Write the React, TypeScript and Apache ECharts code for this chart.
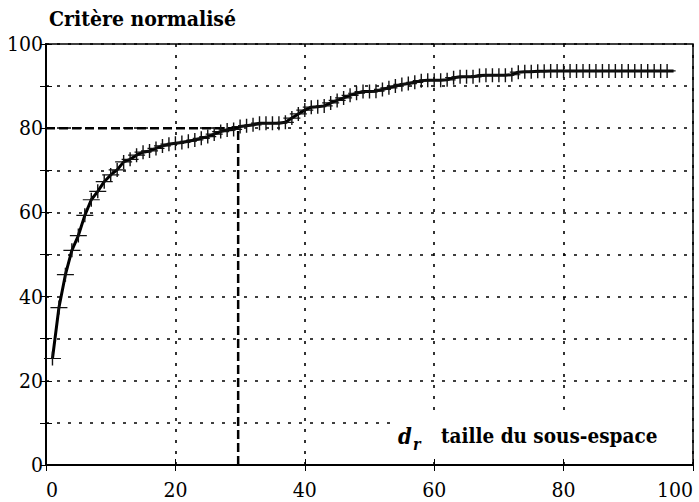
import React, { useEffect, useRef } from "react";
import * as echarts from "echarts";

const subspaceSize: number[] = [
  1, 2, 3, 4, 5, 6, 7, 8, 9, 10, 11, 12, 13, 14, 15, 16, 17, 18, 19, 20,
  21, 22, 23, 24, 25, 26, 27, 28, 29, 30, 31, 32, 33, 34, 35, 36, 37, 38, 39, 40,
  41, 42, 43, 44, 45, 46, 47, 48, 49, 50, 51, 52, 53, 54, 55, 56, 57, 58, 59, 60,
  61, 62, 63, 64, 65, 66, 67, 68, 69, 70, 71, 72, 73, 74, 75, 76, 77, 78, 79, 80,
  81, 82, 83, 84, 85, 86, 87, 88, 89, 90, 91, 92, 93, 94, 95, 96, 97,
];

const criterion: number[] = [
  25.3, 37.4, 45.2, 51.0, 54.5, 59.3, 63.0, 65.0, 67.3, 68.9,
  70.1, 72.0, 72.6, 73.6, 74.3, 74.6, 75.2, 75.8, 76.2, 76.4,
  76.6, 76.9, 77.2, 77.6, 78.0, 78.6, 79.2, 79.6, 79.7, 80.4,
  80.6, 80.8, 81.2, 81.2, 81.2, 81.2, 81.4, 82.4, 83.4, 84.3,
  85.0, 85.1, 85.3, 86.0, 86.6, 87.2, 87.8, 88.3, 88.7, 88.7,
  88.8, 89.2, 89.6, 90.0, 90.4, 90.6, 90.9, 91.3, 91.4, 91.4,
  91.4, 91.5, 92.0, 92.2, 92.2, 92.2, 92.5, 92.6, 92.6, 92.6,
  92.6, 92.7, 93.3, 93.4, 93.4, 93.5, 93.5, 93.6, 93.6, 93.6,
  93.6, 93.6, 93.6, 93.6, 93.6, 93.6, 93.6, 93.6, 93.6, 93.6,
  93.6, 93.6, 93.6, 93.6, 93.6, 93.6, 93.6,
];

// 80 % threshold guide
const thresholdCriterion = 80;
const thresholdSize = 29.7;

const yTicks = [0, 20, 40, 60, 80, 100];

const SERIF = "DejaVu Serif Condensed";

export default function App() {
  const ref = useRef<HTMLDivElement>(null);

  useEffect(() => {
    if (!ref.current) return;
    const chart = echarts.init(ref.current, undefined, { renderer: "svg" });

    const lastIdx = subspaceSize.length - 1;
    const curveData = subspaceSize.map((x, i) =>
      i === lastIdx
        ? { value: [x, criterion[i]], symbol: "none" }
        : { value: [x, criterion[i]] }
    );

    const dotted = { color: "#000", width: 1.6, type: [3, 8] as number[] };

    chart.setOption({
      animation: false,
      backgroundColor: "#fff",
      grid: {
        left: 46,
        right: 6,
        top: 44,
        bottom: 37,
        show: true,
        borderColor: "#000",
        borderWidth: 1.5,
        backgroundColor: "transparent",
      },
      xAxis: [
        {
          type: "value",
          min: 0,
          max: 100,
          interval: 20,
          axisLine: { show: true, lineStyle: { color: "#000", width: 2 } },
          axisTick: { show: true, inside: true, length: 6, lineStyle: { color: "#000" } },
          axisLabel: {
            color: "#000",
            fontFamily: SERIF,
            fontSize: 21,
            margin: 14,
            alignMinLabel: "left",
            alignMaxLabel: "right",
            padding: [0, 0, 0, 0],
          },
          splitLine: { show: true, lineStyle: dotted },
        },
        {
          type: "value",
          position: "top",
          min: 0,
          max: 100,
          interval: 20,
          axisLine: { show: true, lineStyle: { color: "#000", width: 2 } },
          axisTick: { show: true, inside: true, length: 6, lineStyle: { color: "#000" } },
          axisLabel: { show: false },
          splitLine: { show: false },
        },
      ],
      yAxis: [
        {
          type: "value",
          min: 0,
          max: 100,
          interval: 10,
          axisLine: { show: true, lineStyle: { color: "#000", width: 2 } },
          axisTick: { show: true, inside: true, length: 6, lineStyle: { color: "#000" } },
          axisLabel: {
            color: "#000",
            fontFamily: SERIF,
            fontSize: 21,
            margin: 3,
            formatter: (v: number) => (yTicks.indexOf(v) >= 0 ? String(v) : ""),
          },
          splitLine: { show: true, lineStyle: dotted },
        },
        {
          type: "value",
          position: "right",
          min: 0,
          max: 100,
          interval: 10,
          axisLine: { show: true, lineStyle: { color: "#000", width: 1.5 } },
          axisTick: { show: true, inside: true, length: 6, lineStyle: { color: "#000" } },
          axisLabel: { show: false },
          splitLine: { show: false },
        },
      ],
      series: [
        {
          type: "line",
          xAxisIndex: 0,
          yAxisIndex: 0,
          data: [
            [0, thresholdCriterion],
            [thresholdSize, thresholdCriterion],
            [thresholdSize, 0],
          ],
          symbol: "none",
          lineStyle: { color: "#000", width: 2.5, type: [9, 4] },
          z: 3,
          silent: true,
        },
        {
          type: "line",
          xAxisIndex: 0,
          yAxisIndex: 0,
          data: curveData,
          showAllSymbol: true,
          symbol: "path://M0,6.4H17V7.6H0Z M7.8,0H9.2V14H7.8Z",
          symbolSize: [17, 14],
          itemStyle: { color: "#111", borderWidth: 0 },
          lineStyle: { color: "#000", width: 3 },
          smooth: false,
          z: 4,
          silent: true,
        },
      ],
      graphic: [
        {
          type: "text",
          x: 49,
          y: 18,
          z: 20,
          style: {
            text: "Critère normalisé",
            fontFamily: SERIF,
            fontWeight: "bold",
            fontSize: 21,
            fill: "#000",
            textAlign: "left",
            textVerticalAlign: "middle",
          },
        },
        {
          type: "rect",
          z: 20,
          shape: { x: 394, y: 418, width: 297, height: 40 },
          style: { fill: "#fff" },
        },
        {
          type: "text",
          x: 398,
          y: 436,
          z: 21,
          style: {
            text: "d",
            fontFamily: SERIF,
            fontWeight: "bold",
            fontStyle: "italic",
            fontSize: 22,
            fill: "#000",
            textAlign: "left",
            textVerticalAlign: "middle",
          },
        },
        {
          type: "text",
          x: 413,
          y: 444,
          z: 21,
          style: {
            text: "r",
            fontFamily: SERIF,
            fontWeight: "bold",
            fontStyle: "italic",
            fontSize: 16,
            fill: "#000",
            textAlign: "left",
            textVerticalAlign: "middle",
          },
        },
        {
          type: "text",
          x: 441,
          y: 436,
          z: 21,
          style: {
            text: "taille du sous-espace",
            fontFamily: SERIF,
            fontWeight: "bold",
            fontSize: 20.5,
            fill: "#000",
            textAlign: "left",
            textVerticalAlign: "middle",
          },
        },
      ],
    });

    return () => chart.dispose();
  }, []);

  return (
    <div
      ref={ref}
      style={{ position: "fixed", left: 0, top: 0, width: 699, height: 502 }}
    />
  );
}
